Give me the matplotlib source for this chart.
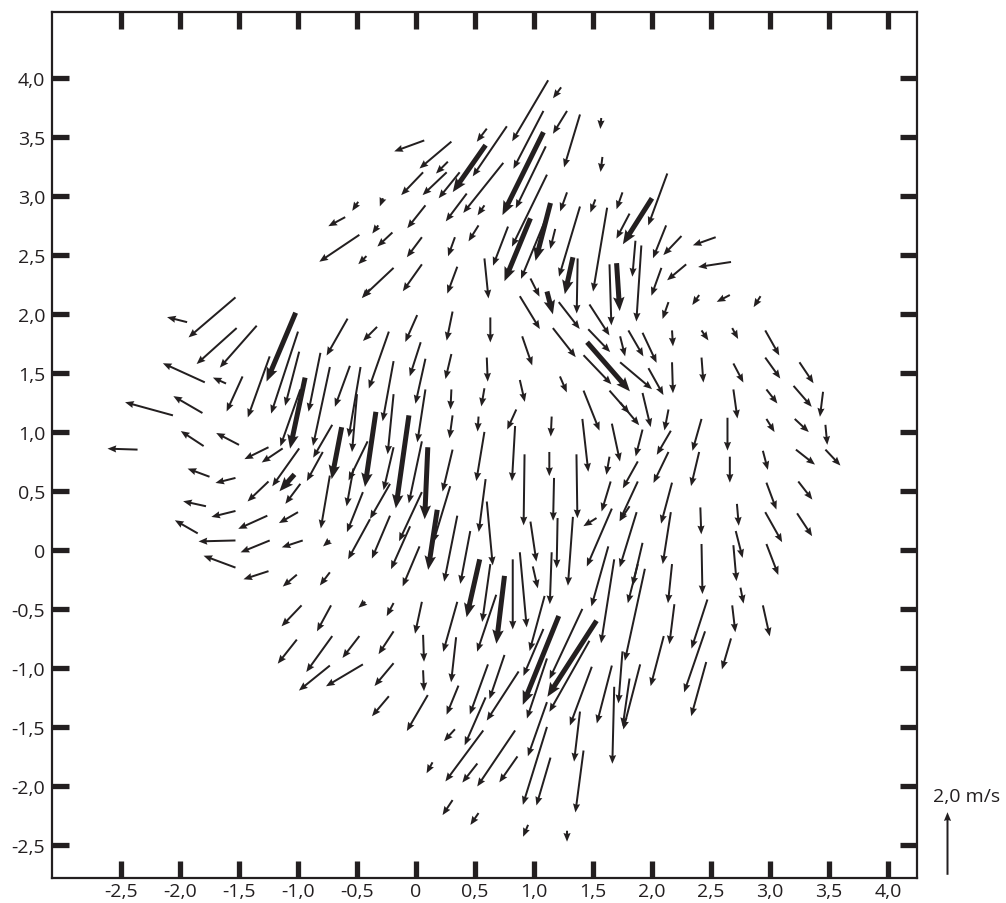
import numpy as np
import matplotlib
matplotlib.use('Agg')
import matplotlib.pyplot as plt
from matplotlib.ticker import FixedLocator, FuncFormatter

plt.rcParams['font.family'] = ['Open Sans', 'DejaVu Sans']

# tail positions (m) and velocity components (m/s), thin arrows
x = [-0.49, -0.60, -0.48, -0.42, -0.39, -1.53, -1.94,
     1.12, 1.23, 0.07, 0.30, 0.60, 0.77, 1.08, 1.28, 1.39, 1.57, 1.58, 0.27, 0.06, 0.26, 0.37,
     1.10, 0.74, 1.11, -0.28, 0.08, 0.43, 0.58, 0.78, 1.11, 1.18, 1.28, 1.39, 1.52, 1.62, 1.75,
     0.53, 0.33, 0.05, -0.20, -0.32, -0.19, 0.05, 0.35, 0.58, 0.97, 0.88, 1.37, 1.21, 1.47, 1.64,
     0.01, 0.31, 0.63, -0.33,
     2.13, 1.81, 1.86, 1.91, 2.12, 2.25, 2.54, 2.08, 2.29, 2.67, 2.14, 2.40, 2.66, 2.92,
     -1.52, -1.35, -1.79, -1.61, -1.47, -1.24, -1.00, -0.99, -0.81, -0.73, -0.58, -0.56, -0.47,
     -0.98, -1.81, -2.06, -2.36, -1.80, -1.50, -1.25, -1.13, -0.71, -0.50, -0.41, -0.99, -0.79,
     -0.73, -0.98, -1.75, -1.53, -1.25, -1.78, -1.53, -1.26, -1.00, -1.85, -1.53, -1.24, -0.96,
     -0.73, -1.53, -1.25, -1.01, -0.73, -0.53, -0.45, -0.39,
     -0.23, 0.04, 0.90, 1.16, 1.46, 1.42, 1.73, -0.19, 0.08, 0.30, 0.60, 0.30, 0.58, 0.88, 1.22,
     1.42, 1.64, -0.19, 0.08, 0.31, 0.53, 0.85, 1.15, 1.41, 1.66, 0.58, 0.84, 1.13, 1.36, 1.64,
     -0.19, 0.05, 0.31, 0.59, 0.92, 1.17, 1.65, 1.53, -0.22, 0.05, 0.29, 0.60, 0.97, 1.20, 1.33,
     1.66, 1.81, 1.63, -0.22, -0.05, 0.03, 0.35, 0.46, 0.88, 0.99, 1.15,
     -0.19, 0.05, -0.19, 0.06, -0.19, 0.06, -0.23, 0.10, 0.35, 0.34, 0.36, 0.33, 0.14, 0.57, 0.52,
     0.84, 0.86, 0.31, 0.53, 0.95, 1.28, 0.68, 0.61, 0.75, 0.59, 0.87, 1.09, 1.08, 1.11, 1.11,
     1.11, 1.14, 1.41, 1.47, 1.49, 1.39, 1.42, 1.68, 1.75, 1.66, 1.68, 1.81, 0.82, 0.63,
     -0.97, -0.72, -0.43, -1.01, -0.71, -0.48, -0.73, -0.45,
     1.80, 1.92, 2.17, 2.42, 2.68, 2.96, 1.73, 1.97, 2.17, 2.42, 2.69, 2.96, 3.25, 1.73, 1.92,
     2.14, 2.69, 2.97, 3.20, 3.45, 2.97, 3.21, 3.47, 1.92, 2.16, 2.42, 2.64, 2.94, 3.22, 3.47,
     1.88, 2.14, 2.40, 2.66, 2.97, 3.24, 1.88, 2.17, 2.41, 2.72, 2.96, 3.23, 1.87, 2.16, 2.42,
     2.71, 2.69, 2.97, 1.92, 2.17,
     1.88, 1.94, 2.75, 2.19, 2.47, 2.68, 2.94, 2.10, 2.45, 2.67, 2.46, 1.90]
y = [2.95, 2.82, 2.67, 2.49, 2.21, 2.14, 1.93,
     3.98, 3.92, 3.47, 3.46, 3.57, 3.59, 3.72, 3.72, 3.69, 3.66, 3.33, 3.29, 3.20, 3.20, 3.20,
     3.42, 3.28, 3.18, 2.98, 2.92, 3.02, 2.92, 2.74, 2.83, 2.72, 3.03, 2.91, 2.97, 2.90, 3.03,
     2.75, 2.65, 2.65, 2.69, 2.75, 2.39, 2.42, 2.40, 2.47, 2.30, 2.15, 2.47, 2.10, 2.08, 2.42,
     1.99, 2.02, 1.97, 1.89,
     3.19, 2.85, 2.62, 2.58, 2.75, 2.66, 2.65, 2.39, 2.42, 2.44, 2.10, 2.16, 2.16, 2.15,
     1.88, 1.90, 1.42, 1.41, 1.47, 1.64, 1.85, 1.68, 1.67, 1.55, 1.96, 1.56, 1.55,
     1.36, 1.16, 1.14, 0.85, 0.88, 0.89, 0.87, 0.86, 1.06, 1.32, 0.92, 0.86, 0.83,
     0.63, 0.56, 0.62, 0.61, 0.58, 0.37, 0.33, 0.29, 0.32, 0.14, 0.08, 0.08, 0.08,
     0.08, -0.15, -0.18, -0.21, -0.19, 0.69, 0.49, 0.26,
     1.85, 1.76, 1.81, 1.88, 1.87, 1.65, 1.81, 1.60, 1.62, 1.66, 1.63, 1.36, 1.37, 1.44, 1.47,
     1.35, 1.35, 1.32, 1.36, 1.14, 1.13, 1.19, 1.13, 1.11, 1.07, 1.00, 1.05, 0.83, 0.81, 0.79,
     0.87, 0.92, 0.85, 0.60, 0.81, 0.61, 0.58, 0.27, 0.56, 0.49, 0.54, 0.41, 0.24, 0.27, 0.28,
     0.35, 0.37, 0.03, 0.29, 0.20, 0.03, 0.29, 0.16, -0.02, -0.14, -0.02,
     -0.45, -0.44, -0.69, -0.72, -0.96, -1.02, -1.24, -1.23, -0.44, -0.74, -1.15, -1.52, -1.80, -1.53, -1.81,
     -1.53, -1.75, -2.12, -2.23, -2.33, -2.38, -0.38, -0.97, -0.89, -1.25, -1.03, -0.39, -0.67, -0.92, -1.29,
     -1.50, -1.76, -0.50, -0.77, -0.99, -1.37, -1.70, -0.08, -0.86, -0.98, -1.16, -1.09, -0.08, -0.12,
     -0.47, -0.47, -0.44, -0.76, -0.73, -0.73, -0.98, -0.97,
     1.86, 1.84, 1.86, 1.86, 1.88, 1.86, 1.59, 1.54, 1.59, 1.63, 1.58, 1.63, 1.59, 1.25, 1.33,
     1.19, 1.36, 1.36, 1.39, 1.34, 1.11, 1.11, 1.06, 1.02, 1.01, 1.11, 1.12, 0.84, 0.85, 0.85,
     0.75, 0.83, 0.83, 0.79, 0.57, 0.58, 0.58, 0.57, 0.36, 0.39, 0.32, 0.31, 0.32, 0.32, 0.05,
     0.16, 0.04, 0.05, 0.06, -0.12,
     -0.12, -0.16, -0.32, -0.46, -0.42, -0.47, -0.47, -0.73, -0.69, -0.75, -0.95, -0.97]
u = [-0.19, -0.54, -1.28, -0.26, -0.26, -1.50, -0.64,
     -1.15, -0.26, -0.96, -1.02, -0.32, -1.09, -0.96, -0.45, -0.51, -0.03, -0.06, -0.38, -0.70, -0.77, -0.67,
     -0.96, -1.28, -1.12, -0.10, -0.58, -0.67, -0.22, -0.48, -0.83, -0.16, -0.22, -0.67, -0.16, -0.45, -0.19,
     -0.32, -0.22, -0.48, -0.48, -0.19, -0.99, -0.61, -0.32, 0.13, 0.29, 0.64, -0.03, 0.67, 0.64, 0.06,
     -0.38, -0.19, 0.00, -0.45,
     -0.61, -0.42, -0.10, -0.16, -0.42, -0.58, -0.73, -0.32, -0.61, -1.05, -0.19, -0.22, -0.42, -0.22,
     -1.28, -1.18, -1.34, -0.42, -0.51, -0.70, -0.86, -0.45, -0.38, -0.54, -0.67, -0.48, -0.38,
     -0.64, -0.93, -1.53, -0.96, -0.73, -0.73, -0.77, -0.67, -0.61, -0.16, -0.61, -0.86, -0.51,
     -0.29, -0.48, -0.70, -0.64, -0.67, -0.73, -0.77, -0.93, -0.61, -0.73, -1.18, -0.93, -0.67,
     -0.22, -1.02, -0.80, -0.45, -0.32, -0.22, -0.51, -0.70,
     -0.64, -0.35, 0.32, 0.73, 0.70, 0.89, 0.16, -0.35, -0.32, -0.19, 0.03, -0.03, -0.10, 0.16, 0.22,
     0.51, 0.64, -0.19, -0.26, -0.10, -0.03, -0.29, -0.03, 0.19, 0.26, -0.26, -0.10, 0.00, 0.03, -0.10,
     -0.32, -0.42, -0.32, -0.22, -0.03, -0.03, -0.29, -0.42, -0.64, -0.73, -0.54, 0.19, 0.19, -0.03, -0.16,
     -0.80, -0.32, -0.54, -0.58, -0.61, -0.54, -0.42, -0.32, 0.22, 0.16, -0.06,
     -0.22, -0.22, -0.48, 0.03, -0.61, 0.03, -0.54, -0.67, -0.45, -0.16, -0.38, -0.35, -0.19, -1.21, -0.48,
     -1.21, -0.58, -0.32, -0.26, -0.16, 0.00, -0.61, -0.58, -0.48, -0.67, -1.02, -0.48, -0.64, -0.64, -0.61,
     -0.77, -0.45, -1.05, -1.28, -0.70, -0.19, -0.26, -0.42, -0.13, -0.48, -0.06, -0.22, 0.00, -0.26,
     -0.64, -0.45, -0.22, -0.61, -0.83, -0.54, -0.99, -1.18,
     0.48, 0.45, 0.03, 0.22, 0.19, 0.45, 1.02, 0.48, 0.03, 0.06, 0.32, 0.48, 0.45, 0.61, 0.26,
     -0.13, 0.13, 0.35, 0.58, -0.10, 0.26, 0.45, 0.06, -0.22, -0.45, -0.29, 0.00, 0.16, 0.61, 0.48,
     -0.48, -0.48, -0.26, 0.00, 0.32, 0.45, -0.58, -0.35, 0.03, 0.06, 0.54, 0.48, -0.54, -0.26, 0.03,
     0.22, 0.10, 0.38, -0.32, -0.13,
     -0.32, -0.64, 0.10, -0.16, -0.51, 0.10, 0.22, -0.42, -0.67, -0.29, -0.48, -0.54]
v = [-0.29, -0.29, -0.86, -0.26, -0.29, -1.28, 0.16,
     -1.95, -0.35, -0.35, -0.86, -0.42, -1.60, -1.85, -0.73, -1.69, -0.35, -0.48, -0.38, -0.73, -0.73, -0.83,
     -1.98, -1.60, -2.30, -0.26, -0.73, -0.89, -0.32, -1.25, -2.01, -0.64, -0.61, -2.24, -0.42, -2.68, -0.54,
     -0.51, -0.61, -0.64, -0.45, -0.26, -0.93, -0.86, -0.86, -1.28, -0.58, -1.05, -1.76, -0.86, -0.99, -1.95,
     -0.86, -0.93, -0.80, -0.45,
     -1.66, -0.80, -1.15, -2.43, -1.05, -0.61, -0.26, -0.89, -0.51, -0.16, -0.54, -0.32, -0.22, -0.35,
     -1.15, -1.34, 0.61, 0.19, -1.12, -1.95, -2.62, -1.73, -1.88, -2.52, -1.18, -1.31, -2.24,
     -1.82, 0.54, 0.42, 0.03, 0.48, 0.38, -0.38, -0.45, -1.05, -1.85, -1.25, -1.21, -0.93,
     -1.69, -0.64, 0.26, -0.16, -0.64, 0.16, -0.19, -0.42, -0.35, 0.42, -0.03, -0.38, -0.22,
     -0.19, 0.38, -0.26, -0.38, -0.42, -1.21, -1.28, -1.28,
     -1.82, -1.09, -0.93, -0.93, -0.73, -0.93, -0.64, -1.92, -1.44, -0.80, -0.77, -0.64, -0.58, -0.70, -0.51,
     -1.28, -0.73, -1.92, -1.69, -0.73, -0.48, -0.64, -0.64, -1.69, -1.21, -1.57, -1.76, -0.77, -2.04, -0.58,
     -1.37, -1.98, -1.34, -1.69, -2.27, -1.37, -0.96, -0.26, -1.12, -1.57, -1.79, -2.04, -1.28, -1.60, -2.20,
     -1.85, -0.48, -1.92, -1.37, -1.37, -1.28, -2.11, -1.69, -2.40, -0.70, -1.66,
     -0.42, -1.02, -0.73, -0.86, -0.73, -0.67, -0.64, -1.15, -1.60, -1.44, -0.93, -0.38, -0.35, -1.63, -0.61,
     -1.79, -0.83, -0.48, -0.38, -0.38, -0.35, -1.82, -1.60, -1.41, -1.53, -1.57, -1.76, -1.50, -1.92, -1.73,
     -2.49, -1.53, -2.24, -2.27, -1.88, -1.60, -1.98, -2.68, -1.66, -1.85, -2.46, -1.53, -2.24, -1.85,
     -0.67, -0.83, -0.19, -0.77, -1.15, -0.70, -0.80, -0.70,
     -0.83, -0.96, -0.51, -0.32, -0.35, -0.80, -0.86, -0.86, -0.99, -0.80, -0.61, -0.67, -0.67, -0.73, -1.09,
     -0.67, -0.93, -0.45, -0.67, -0.80, -0.42, -0.42, -0.64, -0.86, -0.77, -1.02, -1.05, -0.61, -0.48, -0.51,
     -0.86, -0.99, -1.09, -0.83, -0.86, -0.58, -1.25, -1.31, -0.86, -0.70, -0.96, -0.73, -1.76, -1.66, -1.60,
     -0.86, -1.15, -0.99, -1.37, -1.25,
     -1.25, -2.94, -0.51, -1.28, -1.57, -0.86, -0.99, -1.60, -1.95, -0.99, -1.73, -2.08]

# highlighted (thick) arrows
xt = [0.59, 1.08, 1.14, 0.97, 1.11, 1.33, 1.70, 2.00, -1.02, -0.94, -0.63, -1.03, 1.45,
      -0.34, -0.06, 0.10, 0.18, 1.21, 1.53, 0.75, 0.54]
yt = [3.43, 3.54, 2.94, 2.81, 2.19, 2.48, 2.43, 2.98, 2.01, 1.46, 1.04, 0.64, 1.76,
      1.17, 1.14, 0.87, 0.34, -0.56, -0.60, -0.22, -0.08]
ut = [-1.05, -1.31, -0.48, -0.83, 0.19, -0.26, 0.10, -0.93, -0.93, -0.48, -0.32, -0.48, 1.37,
      -0.35, -0.42, -0.10, -0.29, -1.15, -1.57, -0.26, -0.42]
vt = [-1.50, -2.65, -1.85, -2.01, -0.73, -1.18, -1.53, -1.47, -2.20, -2.27, -1.66, -0.54, -1.57,
      -2.40, -2.97, -2.30, -1.92, -2.84, -2.43, -2.17, -1.85]

ticks = [-2.5, -2.0, -1.5, -1.0, -0.5, 0.0, 0.5, 1.0, 1.5, 2.0, 2.5, 3.0, 3.5, 4.0]
key_speed = 2.0
ink = '#231f20'


def comma_fmt(val, pos):
    if abs(val) < 1e-9:
        return '0'
    return ('%.1f' % val).replace('.', ',')


fig = plt.figure(figsize=(10.06, 9.04), dpi=100)
ax = fig.add_axes([0.0517, 0.0277, 0.8598, 0.9580])

q = ax.quiver(x, y, u, v, angles='xy', scale_units='xy', scale=3.77, pivot='tail',
              color=ink, width=0.0023, headwidth=3.6, headlength=4.4, headaxislength=4.0)
ax.quiver(xt, yt, ut, vt, angles='xy', scale_units='xy', scale=3.77, pivot='tail',
          color=ink, width=0.0058, headwidth=2.3, headlength=2.8, headaxislength=2.5)

ax.set_xlim(-3.085, 4.246)
ax.set_ylim(-2.78, 4.559)

ax.xaxis.set_major_locator(FixedLocator(ticks))
ax.yaxis.set_major_locator(FixedLocator(ticks))
ax.xaxis.set_major_formatter(FuncFormatter(comma_fmt))
ax.yaxis.set_major_formatter(FuncFormatter(comma_fmt))
ax.tick_params(axis='both', direction='in', length=12.5, width=3.8, color=ink,
               labelsize=14, labelcolor=ink, top=True, right=True)
ax.tick_params(axis='x', pad=3)
ax.tick_params(axis='y', pad=5)
for s in ax.spines.values():
    s.set_linewidth(1.6)
    s.set_color(ink)

# scale arrow outside the frame
ax.quiverkey(q, 947 / 1006, 1 - 844 / 904, key_speed, '', angle=90,
             coordinates='figure', color=ink)
fig.text(967 / 1006, 1 - 797 / 904, '2,0 m/s', ha='center', va='center',
         fontsize=14, color=ink)

fig.savefig('out.png', dpi=100)
